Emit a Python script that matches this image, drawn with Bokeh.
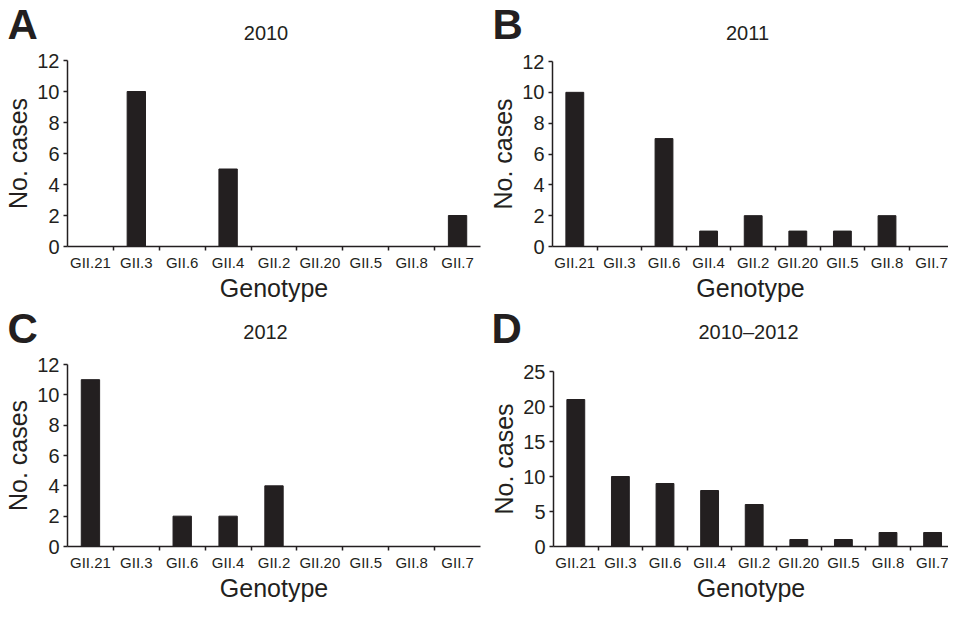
from bokeh.plotting import figure
from bokeh.layouts import column, row
from bokeh.models import Range1d, FixedTicker, Label
from bokeh.embed import file_html
from bokeh.resources import INLINE

categories = ["GII.21", "GII.3", "GII.6", "GII.4", "GII.2", "GII.20", "GII.5", "GII.8", "GII.7"]
cases_2010 = [0, 10, 0, 5, 0, 0, 0, 0, 2]
cases_2011 = [10, 0, 7, 1, 2, 1, 1, 2, 0]
cases_2012 = [11, 0, 2, 2, 4, 0, 0, 0, 0]
cases_total = [21, 10, 9, 8, 6, 1, 1, 2, 2]

INK = "#231f20"
FONT = "Liberation Sans"
TOTAL_W = 948


def header(h, items):
    """A strip that carries the panel letters and the year titles."""
    p = figure(width=TOTAL_W, height=h, output_backend="svg", toolbar_location=None,
               x_range=Range1d(0, TOTAL_W), y_range=Range1d(h, 0),
               x_axis_location=None, y_axis_location=None,
               min_border=0, min_border_left=0, min_border_right=0,
               min_border_top=0, min_border_bottom=0, frame_align=False)
    p.outline_line_color = None
    p.xgrid.visible = False
    p.ygrid.visible = False
    p.background_fill_color = "white"
    p.border_fill_color = "white"
    for text, x, y, size, bold, align, base in items:
        p.add_layout(Label(x=x, y=y, text=text, text_font=FONT, text_font_size=size,
                           text_font_style="bold" if bold else "normal",
                           text_color=INK, text_align=align, text_baseline=base))
    return p


def panel(values, ymax, ystep, w, h, left, top, fw, fh, xend):
    p = figure(width=w, height=h, output_backend="svg", toolbar_location=None,
               x_range=Range1d(0, xend), y_range=Range1d(0, ymax),
               min_border_left=left, min_border_top=top,
               min_border_right=w - left - fw, min_border_bottom=h - top - fh,
               frame_align=False)
    p.outline_line_color = None
    p.xgrid.visible = False
    p.ygrid.visible = False
    p.background_fill_color = "white"
    p.border_fill_color = "white"

    centers = [i + 0.5 for i in range(len(categories))]
    p.vbar(x=centers, top=values, width=0.4, bottom=0,
           fill_color=INK, line_color=INK, line_width=1)

    xa = p.xaxis[0]
    xa.ticker = FixedTicker(ticks=centers, minor_ticks=list(range(1, len(categories))))
    xa.major_label_overrides = {c: lab for c, lab in zip(centers, categories)}
    xa.major_tick_out = 0
    xa.major_tick_in = 0
    xa.minor_tick_out = 4
    xa.minor_tick_in = 0
    xa.minor_tick_line_color = INK
    xa.minor_tick_line_width = 1.5
    xa.axis_line_color = INK
    xa.axis_line_width = 1.5
    xa.major_label_text_font = FONT
    xa.major_label_text_font_size = "15px"
    xa.major_label_text_color = INK
    xa.major_label_standoff = 3
    xa.axis_label = "Genotype"
    xa.axis_label_text_font = FONT
    xa.axis_label_text_font_size = "25px"
    xa.axis_label_text_font_style = "normal"
    xa.axis_label_text_color = INK
    xa.axis_label_standoff = 0

    ya = p.yaxis[0]
    ya.ticker = FixedTicker(ticks=list(range(0, ymax + 1, ystep)), minor_ticks=[])
    ya.major_tick_out = 4
    ya.major_tick_in = 0
    ya.major_tick_line_color = INK
    ya.major_tick_line_width = 1.5
    ya.axis_line_color = INK
    ya.axis_line_width = 1.5
    ya.major_label_text_font = FONT
    ya.major_label_text_font_size = "20px"
    ya.major_label_text_color = INK
    ya.major_label_standoff = 4
    ya.axis_label = "No. cases"
    ya.axis_label_text_font = FONT
    ya.axis_label_text_font_size = "25px"
    ya.axis_label_text_font_style = "normal"
    ya.axis_label_text_color = INK
    ya.axis_label_standoff = 2
    return p


CAT_B = 44.6         # px per category, right panels (page edge)

head1 = header(48, [
    ("A", 7, 0.5, "42px", True, "left", "top"),
    ("2010", 265.5, 32.1, "20px", False, "center", "middle"),
    ("B", 492, 0.5, "42px", True, "left", "top"),
    ("2011", 747, 32.1, "20px", False, "center", "middle"),
])
a = panel(cases_2010, 12, 2, 482, 256, 67, 12, 413, 186, 9)
b = panel(cases_2011, 12, 2, TOTAL_W - 482, 256, 70, 13, 396, 185, 396 / CAT_B)

head2 = header(48, [
    ("C", 7, 0.5, "42px", True, "left", "top"),
    ("2012", 265, 27.1, "20px", False, "center", "middle"),
    ("D", 491, 0.5, "42px", True, "left", "top"),
    ("2010\u20132012", 748, 27.8, "20px", False, "center", "middle"),
])
c = panel(cases_2012, 12, 2, 482, 252, 67, 12, 413, 182, 9)
d = panel(cases_total, 25, 5, TOTAL_W - 482, 252, 71, 19, 395, 175, 395 / CAT_B)

layout = column(head1, row(a, b), head2, row(c, d))
open("out.html", "w").write(file_html(layout, INLINE))
